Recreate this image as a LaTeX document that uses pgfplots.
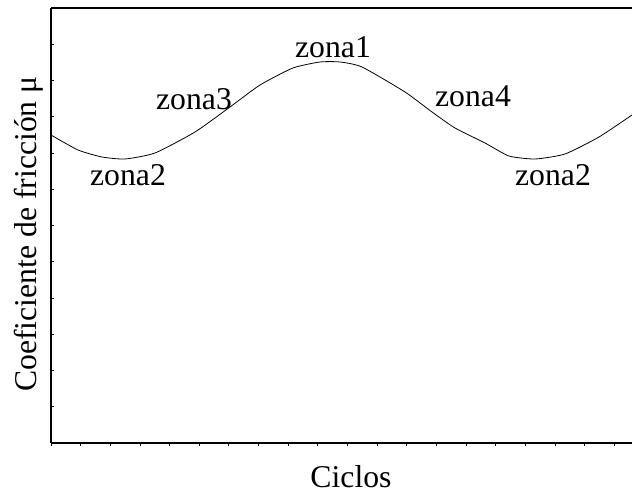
\documentclass[border=0pt]{standalone}
\usepackage{pgfplots}
\pgfplotsset{compat=1.18}
\usepackage{fontspec}
\setmainfont{Liberation Serif}
\begin{document}
\begin{tikzpicture}[font=\fontsize{31.7}{38}\selectfont]
\begin{axis}[
  scale only axis, width=581pt, height=435pt,
  xmin=0, xmax=581, ymin=0, ymax=435,
  axis x line*=bottom, axis y line*=left,
  axis line style={-, line width=1.6pt},
  xtick={0,29.65,...,580}, ytick={0,36.25,...,435},
  xticklabels={}, yticklabels={},
  tick align=inside, major tick length=3pt,
  tick style={line width=0.9pt, black},
  x tick style={yshift=-3pt},
  clip=false,
]
\addplot[black, line width=0.8pt, smooth, tension=0.35] coordinates {
(0,308) (27,293) (51,286) (74,284) (104,290) (144,311) (179,336) (209,358)
(242,375) (269,381) (289,381) (311,376) (354,351) (381,331) (404,315)
(434,300) (458,287) (484,284) (514,289) (548,306) (581,328)
};
\draw[line width=1.6pt] (rel axis cs:0,1) -- (rel axis cs:1,1);
\node[anchor=base] at (axis cs:282,385) {zona1};
\node[anchor=base] at (axis cs:143,333) {zona3};
\node[anchor=base] at (axis cs:422,336) {zona4};
\node[anchor=base] at (axis cs:77,257) {zona2};
\node[anchor=base] at (axis cs:502,257) {zona2};
\node[anchor=center] at (axis cs:300,-34) {Ciclos};
\node[rotate=90, anchor=center] at (axis cs:-22,209) {Coeficiente de fricción μ};
\coordinate (bbSW) at (axis cs:-51,-51);
\coordinate (bbNE) at (axis cs:581,443);
\end{axis}
\pgfresetboundingbox
\useasboundingbox (bbSW) rectangle (bbNE);
\end{tikzpicture}
\end{document}
